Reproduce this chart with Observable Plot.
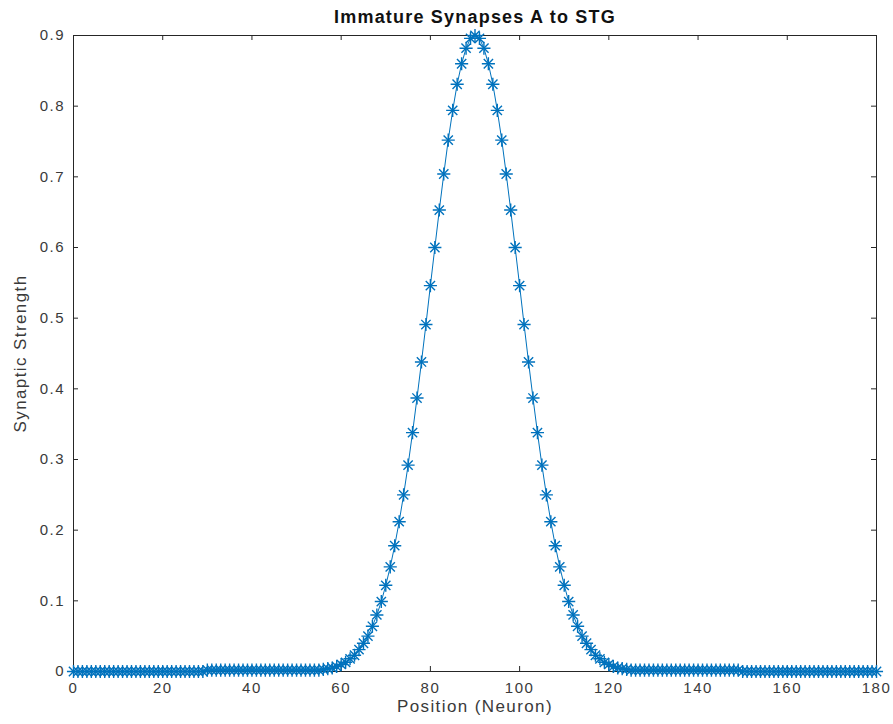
<!DOCTYPE html>
<html>
<head>
<meta charset="utf-8">
<script src="https://cdn.jsdelivr.net/npm/d3@7"></script>
<script src="https://cdn.jsdelivr.net/npm/@observablehq/plot@0.6"></script>
<style>
  html, body { margin: 0; padding: 0; background: #fff; }
</style>
</head>
<body>
<div id="chart"></div>
<script>
const chartTitle = "Immature Synapses A to STG";
const xLabel = "Position (Neuron)";
const yLabel = "Synaptic Strength";
const xTicks = [0, 20, 40, 60, 80, 100, 120, 140, 160, 180];
const yTicks = [0, 0.1, 0.2, 0.3, 0.4, 0.5, 0.6, 0.7, 0.8, 0.9];

const positions = [
  0,1,2,3,4,5,6,7,8,9,10,11,12,13,14,15,16,17,18,19,
  20,21,22,23,24,25,26,27,28,29,30,31,32,33,34,35,36,37,38,39,
  40,41,42,43,44,45,46,47,48,49,50,51,52,53,54,55,56,57,58,59,
  60,61,62,63,64,65,66,67,68,69,70,71,72,73,74,75,76,77,78,79,
  80,81,82,83,84,85,86,87,88,89,90,91,92,93,94,95,96,97,98,99,
  100,101,102,103,104,105,106,107,108,109,110,111,112,113,114,115,116,117,118,119,
  120,121,122,123,124,125,126,127,128,129,130,131,132,133,134,135,136,137,138,139,
  140,141,142,143,144,145,146,147,148,149,150,151,152,153,154,155,156,157,158,159,
  160,161,162,163,164,165,166,167,168,169,170,171,172,173,174,175,176,177,178,179,
  180
];

const strength = [
  // 0-29
  0,0,0,0,0,0,0,0,0,0, 0,0,0,0,0,0,0,0,0,0, 0,0,0,0,0,0,0,0,0,0,
  // 30-55
  0.002,0.002,0.002,0.002,0.002,0.002,0.002,0.002,0.002,0.002,
  0.002,0.002,0.002,0.002,0.002,0.002,0.002,0.002,0.002,0.002,
  0.002,0.002,0.002,0.002,0.002,0.002,
  // 56-90
  0.003,0.004,0.005,0.007,0.010,0.013,0.018,0.023,0.031,0.040,
  0.050,0.064,0.080,0.099,0.122,0.148,0.178,0.212,0.250,0.292,
  0.338,0.387,0.438,0.491,0.546,0.600,0.653,0.704,0.752,0.794,
  0.831,0.860,0.882,0.896,0.900,
  // 91-124
  0.896,0.882,0.860,0.831,0.794,0.752,0.704,0.653,0.600,0.546,
  0.491,0.438,0.387,0.338,0.292,0.250,0.212,0.178,0.148,0.122,
  0.099,0.080,0.064,0.050,0.040,0.031,0.023,0.018,0.013,0.010,
  0.007,0.005,0.004,0.003,
  // 125-149
  0.002,0.002,0.002,0.002,0.002,0.002,0.002,0.002,0.002,0.002,
  0.002,0.002,0.002,0.002,0.002,0.002,0.002,0.002,0.002,0.002,
  0.002,0.002,0.002,0.002,0.002,
  // 150-180
  0,0,0,0,0,0,0,0,0,0, 0,0,0,0,0,0,0,0,0,0, 0,0,0,0,0,0,0,0,0,0, 0
];

const data = positions.map((p, i) => ({position: p, strength: strength[i]}));

const W = 893, H = 724;
const mT = 35, mB = 53, mL = 73, mR = 17;
const plotW = W - mL - mR, plotH = H - mT - mB;
const tickLen = 5;
const axisColor = "#262626";
const textColor = "#3a3a3a";
const blue = "#0072BD";

const chart = Plot.plot({
  width: W,
  height: H,
  marginTop: mT,
  marginBottom: mB,
  marginLeft: mL,
  marginRight: mR,
  style: {fontFamily: "'Liberation Sans', Arial, Helvetica, sans-serif", fontSize: "15px", color: axisColor, background: "#fff"},
  x: {domain: [0, 180]},
  y: {domain: [0, 0.9]},
  marks: [
    Plot.frame({stroke: axisColor, strokeWidth: 1}),
    Plot.axisX(xTicks, {anchor: "bottom", tickSize: 0, tickPadding: 11, tickFormat: d => String(d),
      label: null, fill: textColor, fontSize: 15}),
    Plot.axisY(yTicks, {anchor: "left", tickSize: 0, tickPadding: 8.5, tickFormat: d => String(d),
      label: null, fill: textColor, fontSize: 15}),
    Plot.tickX(xTicks, {x: d => d, insetTop: plotH - tickLen, stroke: axisColor}),
    Plot.tickX(xTicks, {x: d => d, insetBottom: plotH - tickLen, stroke: axisColor}),
    Plot.tickY(yTicks, {y: d => d, insetRight: plotW - tickLen, stroke: axisColor}),
    Plot.tickY(yTicks, {y: d => d, insetLeft: plotW - tickLen, stroke: axisColor}),
    Plot.line(data, {x: "position", y: "strength", stroke: blue, strokeWidth: 1}),
    Plot.dot(data, {x: "position", y: "strength", symbol: "plus", r: 4.3, stroke: blue, strokeWidth: 1.4}),
    Plot.dot(data, {x: "position", y: "strength", symbol: "times", r: 4.3, stroke: blue, strokeWidth: 1.4}),
    Plot.text([xLabel], {text: d => d, frameAnchor: "bottom", dy: 40, fontSize: 17, fill: textColor}),
    Plot.text([yLabel], {text: d => d, frameAnchor: "left", textAnchor: "middle", dx: -52.5, rotate: -90, fontSize: 17, fill: textColor}),
    Plot.text([chartTitle], {text: d => d, frameAnchor: "top", dy: -25.5, fontWeight: "bold", fontSize: 18, fill: "#111"})
  ]
});

// Mac-style wider glyph spacing of the original rendering
d3.select(chart).selectAll("text").each(function () {
  const t = d3.select(this);
  const s = t.text();
  if (s === chartTitle) t.attr("letter-spacing", "1.2px");
  else if (s === xLabel || s === yLabel) t.attr("letter-spacing", "1.4px");
  else t.attr("letter-spacing", "1.5px");
});

document.getElementById("chart").appendChild(chart);
</script>
</body>
</html>
